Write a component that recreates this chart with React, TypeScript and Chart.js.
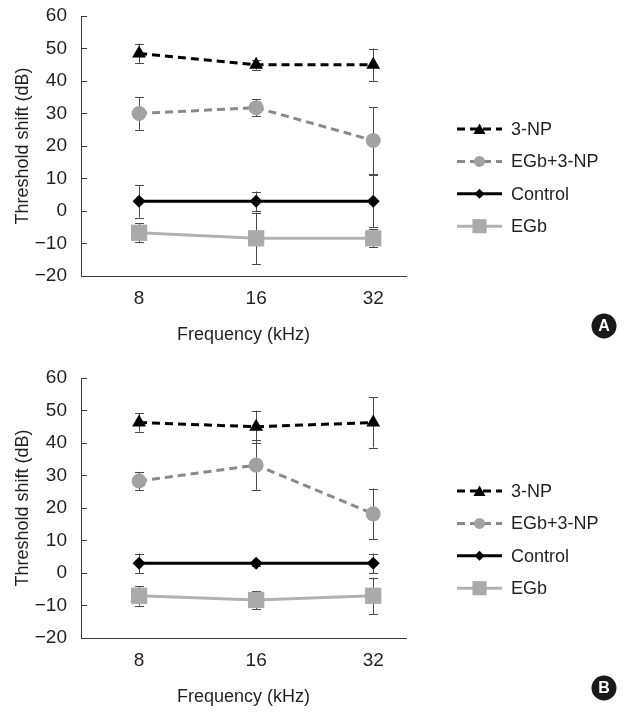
import React, { useEffect, useRef } from 'react';
import { Chart, registerables } from 'chart.js';

Chart.register(...registerables);

// ---------- data ----------
const frequencies = ['8', '16', '32'];
const seriesNames = ['3-NP', 'EGb+3-NP', 'Control', 'EGb'];
const yMin = -20;
const yMax = 60;
const yStep = 10;

// Panel A
const a3NP = [48.5, 45, 45];
const a3NPErr = [3, 1.5, 5];
const aEGb3NP = [30, 31.8, 21.7];
const aEGb3NPErr = [5, 2.7, 10.3];
const aControl = [3, 3, 3];
const aControlErr = [5, 3, 8];
const aEGb = [-6.7, -8.4, -8.4];
const aEGbErr = [2.9, 7.9, 2.8];

// Panel B
const b3NP = [46.3, 45, 46.3];
const b3NPErr = [2.8, 5, 7.7];
const bEGb3NP = [28.3, 33.2, 18.2];
const bEGb3NPErr = [2.8, 7.6, 7.8];
const bControl = [3, 3, 3];
const bControlErr = [3, 0.8, 3];
const bEGb = [-7, -8.3, -7];
const bEGbErr = [3, 2.8, 5.6];

// ---------- styles ----------
const FONT = "'Liberation Sans', Arial, Helvetica, sans-serif";
const TEXT = '#231f20';
const AXIS = '#3a3a3a';

type Style = {
  line: string;
  fill: string;
  dash: number[];
  point: string;
  radius: number;
  legendRadius: number;
};

const styles: Style[] = [
  { line: '#000000', fill: '#000000', dash: [8, 5], point: 'triangle', radius: 8, legendRadius: 7 },
  { line: '#8a8a8a', fill: '#a2a2a2', dash: [8, 5], point: 'circle', radius: 7.5, legendRadius: 5.5 },
  { line: '#000000', fill: '#000000', dash: [], point: 'rectRot', radius: 6.5, legendRadius: 5 },
  { line: '#b2b2b2', fill: '#aaaaaa', dash: [], point: 'rect', radius: 11.5, legendRadius: 10 },
];

function drawMarker(ctx: CanvasRenderingContext2D, kind: string, x: number, y: number, r: number, fill: string) {
  ctx.save();
  ctx.setLineDash([]);
  ctx.fillStyle = fill;
  ctx.beginPath();
  if (kind === 'triangle') {
    for (let k = 0; k < 3; k++) {
      const a = (k * 2 * Math.PI) / 3;
      const px = x + Math.sin(a) * r;
      const py = y - Math.cos(a) * r;
      if (k === 0) ctx.moveTo(px, py);
      else ctx.lineTo(px, py);
    }
    ctx.closePath();
  } else if (kind === 'circle') {
    ctx.arc(x, y, r, 0, Math.PI * 2);
  } else if (kind === 'rectRot') {
    ctx.moveTo(x, y - r);
    ctx.lineTo(x + r, y);
    ctx.lineTo(x, y + r);
    ctx.lineTo(x - r, y);
    ctx.closePath();
  } else {
    const s = r * Math.SQRT1_2;
    ctx.rect(x - s, y - s, 2 * s, 2 * s);
  }
  ctx.fill();
  ctx.restore();
}

const errorBarPlugin = {
  id: 'errorBars',
  beforeDatasetsDraw(chart: any) {
    const ctx = chart.ctx as CanvasRenderingContext2D;
    const yScale = chart.scales.y;
    chart.data.datasets.forEach((ds: any, i: number) => {
      const meta = chart.getDatasetMeta(i);
      ds.errors.forEach((e: number, j: number) => {
        const pt = meta.data[j];
        const v = ds.data[j].y;
        const yt = yScale.getPixelForValue(v + e);
        const yb = yScale.getPixelForValue(v - e);
        const x = Math.round(pt.x) + 0.5;
        ctx.save();
        ctx.strokeStyle = '#4a4a4a';
        ctx.lineWidth = 1;
        ctx.beginPath();
        ctx.moveTo(x, yt);
        ctx.lineTo(x, yb);
        ctx.moveTo(x - 4.5, Math.round(yt) + 0.5);
        ctx.lineTo(x + 4.5, Math.round(yt) + 0.5);
        ctx.moveTo(x - 4.5, Math.round(yb) + 0.5);
        ctx.lineTo(x + 4.5, Math.round(yb) + 0.5);
        ctx.stroke();
        ctx.restore();
      });
    });
  },
};

const legendPlugin = {
  id: 'sideLegend',
  afterDraw(chart: any) {
    const ctx = chart.ctx as CanvasRenderingContext2D;
    const ca = chart.chartArea;
    chart.data.datasets.forEach((ds: any, k: number) => {
      const st = styles[k];
      const y = ca.top + 113 + k * 32.4;
      const x0 = ca.right + 51;
      const x1 = ca.right + 96;
      ctx.save();
      ctx.strokeStyle = st.line;
      ctx.lineWidth = 3;
      ctx.setLineDash(st.dash);
      ctx.beginPath();
      ctx.moveTo(x0, y);
      ctx.lineTo(x1, y);
      ctx.stroke();
      ctx.restore();
      drawMarker(ctx, st.point, (x0 + x1) / 2, st.point === 'triangle' ? y + 1.5 : y, st.legendRadius, st.fill);
      ctx.save();
      ctx.fillStyle = TEXT;
      ctx.font = `18px ${FONT}`;
      ctx.textAlign = 'left';
      ctx.textBaseline = 'middle';
      ctx.fillText(ds.label, ca.right + 105, y + 1);
      ctx.restore();
    });
    // panel letter badge
    const letter = chart.options.plugins.sideLegend.letter;
    const cx = 604;
    const cy = ca.bottom + 50;
    ctx.save();
    ctx.fillStyle = '#1a1a1a';
    ctx.beginPath();
    ctx.arc(cx, cy, 12.5, 0, Math.PI * 2);
    ctx.fill();
    ctx.fillStyle = '#ffffff';
    ctx.font = `bold 16px ${FONT}`;
    ctx.textAlign = 'center';
    ctx.textBaseline = 'middle';
    ctx.fillText(letter, cx, cy + 1);
    ctx.restore();
  },
};

type PanelProps = {
  letter: string;
  values: number[][];
  errors: number[][];
  top: number;
};

function Panel({ letter, values, errors, top }: PanelProps) {
  const ref = useRef<HTMLCanvasElement>(null);
  useEffect(() => {
    const canvas = ref.current!;
    const datasets = values.map((vals, k) => {
      const st = styles[k];
      return {
        label: seriesNames[k],
        data: vals.map((v, i) => ({ x: i, y: v })),
        errors: errors[k],
        borderColor: st.line,
        borderWidth: 3,
        borderDash: st.dash,
        backgroundColor: st.fill,
        pointStyle: st.point,
        pointRadius: st.radius,
        pointBackgroundColor: st.fill,
        pointBorderColor: st.fill,
        pointBorderWidth: 0,
        tension: 0,
        fill: false,
      };
    });
    const chart = new Chart(canvas, {
      type: 'line',
      data: { datasets } as any,
      plugins: [errorBarPlugin, legendPlugin],
      options: {
        responsive: false,
        animation: false,
        devicePixelRatio: 1,
        layout: { padding: { left: 0, top: 16, right: 230, bottom: 0 } },
        plugins: {
          legend: { display: false },
          tooltip: { enabled: false },
          sideLegend: { letter },
        } as any,
        scales: {
          x: {
            type: 'linear',
            min: -0.496,
            max: 2.28,
            grid: { display: false, drawTicks: false },
            border: { display: true, color: AXIS, width: 1 },
            afterBuildTicks: (scale: any) => {
              scale.ticks = frequencies.map((_, i) => ({ value: i }));
            },
            afterFit: (scale: any) => {
              scale.height = 82;
              scale.paddingLeft = 0;
              scale.paddingRight = 0;
            },
            ticks: {
              padding: 11,
              color: TEXT,
              font: { family: FONT, size: 19 },
              maxRotation: 0,
              autoSkip: false,
              callback: (v: any) => frequencies[Math.round(Number(v))] ?? '',
            },
            title: {
              display: true,
              text: 'Frequency (kHz)',
              color: TEXT,
              font: { family: FONT, size: 18 },
              padding: { top: 0, bottom: 12 },
            },
          },
          y: {
            type: 'linear',
            min: yMin,
            max: yMax,
            grid: { drawOnChartArea: false, drawTicks: true, tickLength: -6, color: AXIS, lineWidth: 1 },
            border: { display: true, color: AXIS, width: 1 },
            afterFit: (scale: any) => {
              scale.width = 81;
              scale.paddingTop = 8;
              scale.paddingBottom = 8;
            },
            ticks: {
              stepSize: yStep,
              padding: 20,
              color: TEXT,
              font: { family: FONT, size: 19 },
              callback: (v: any) => (Number(v) < 0 ? '\u2212' + Math.abs(Number(v)) : String(v)),
            },
            title: {
              display: true,
              text: 'Threshold shift (dB)',
              color: TEXT,
              font: { family: FONT, size: 18 },
              padding: { top: 12, bottom: 0 },
            },
          },
        },
      } as any,
    });
    return () => chart.destroy();
  }, []);
  return (
    <div style={{ position: 'absolute', left: 0, top, width: 636, height: 358 }}>
      <canvas ref={ref} width={636} height={358} style={{ width: 636, height: 358, display: 'block' }} />
    </div>
  );
}

export default function App() {
  return (
    <div
      style={{
        position: 'fixed',
        left: 0,
        top: 0,
        width: 636,
        height: 715,
        overflow: 'hidden',
        background: '#ffffff',
      }}
    >
      <Panel
        letter="A"
        top={0}
        values={[a3NP, aEGb3NP, aControl, aEGb]}
        errors={[a3NPErr, aEGb3NPErr, aControlErr, aEGbErr]}
      />
      <Panel
        letter="B"
        top={362}
        values={[b3NP, bEGb3NP, bControl, bEGb]}
        errors={[b3NPErr, bEGb3NPErr, bControlErr, bEGbErr]}
      />
    </div>
  );
}
